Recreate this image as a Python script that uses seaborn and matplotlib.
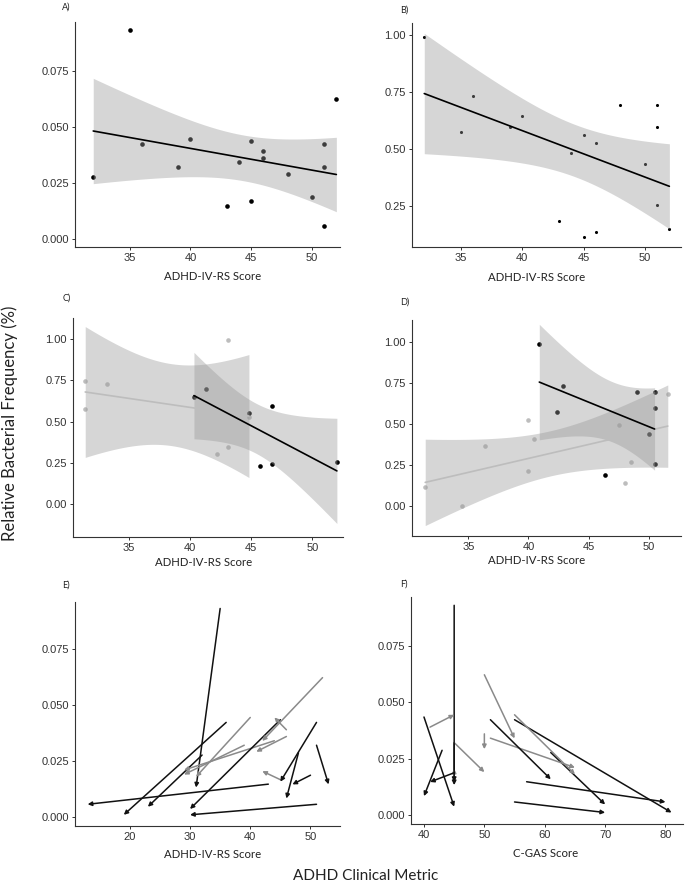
import numpy as np
import pandas as pd
import matplotlib
matplotlib.use("Agg")
import matplotlib.pyplot as plt
import seaborn as sns

try:
    from scipy.stats import t as t_dist
except ImportError:
    t_dist = None

# ---- values ----
# baseline ADHD-IV-RS score and relative frequency (panel A, arrow tails in E/F)
adhd_t1 = [32, 35, 36, 39, 40, 43, 44, 45, 45, 46, 46, 48, 50, 51, 51, 51, 52]
freq_t1 = [0.0277, 0.0932, 0.0423, 0.0321, 0.0445, 0.0147, 0.0341, 0.0435, 0.0167,
           0.0390, 0.0360, 0.0287, 0.0187, 0.0423, 0.0321, 0.0057, 0.0623]
# follow-up values (arrow heads in E/F)
adhd_t2 = [23, 31, 19, 29, 31, 13, 29, 30, 42, 44, 41, 46, 47, 45, 53, 30, 42]
freq_t2 = [0.0046, 0.0132, 0.0010, 0.0190, 0.0180, 0.0057, 0.0210, 0.0036, 0.0205,
           0.0445, 0.0292, 0.0083, 0.0146, 0.0158, 0.0146, 0.0010, 0.0340]
cgas_t1 = [61, 45, 55, 45, 55, 57, 51, 40, 45, 41, 50, 43, 45, 51, 45, 55, 50]
cgas_t2 = [70, 45, 81, 50, 65, 80, 65, 45, 45, 45, 50, 40, 41, 61, 45, 70, 55]
arrow_group = ["dark", "dark", "dark", "light", "light", "dark", "light", "dark", "light",
               "light", "light", "dark", "dark", "dark", "dark", "dark", "light"]

# panel B
freq_b = [0.990, 0.576, 0.731, 0.595, 0.643, 0.187, 0.482, 0.561, 0.117,
          0.528, 0.137, 0.692, 0.436, 0.692, 0.596, 0.257, 0.149]

# panel C (two groups)
c_light_x = [31.4, 31.4, 33.2, 43.1, 42.2, 43.1, 44.8]
c_light_y = [0.744, 0.574, 0.730, 0.996, 0.304, 0.345, 0.525]
c_dark_x = [40.3, 41.3, 44.8, 46.7, 45.7, 46.7, 52.0]
c_dark_y = [0.651, 0.696, 0.552, 0.592, 0.229, 0.245, 0.256]

# panel D (two groups)
d_light_x = [31.4, 34.5, 36.4, 40.0, 40.0, 40.5, 47.5, 48.5, 48.0, 51.6]
d_light_y = [0.114, 0.000, 0.363, 0.525, 0.210, 0.407, 0.489, 0.265, 0.138, 0.682]
d_dark_x = [40.9, 42.4, 42.9, 46.4, 49.0, 50.0, 50.5, 50.5, 50.5]
d_dark_y = [0.986, 0.574, 0.729, 0.187, 0.690, 0.434, 0.690, 0.595, 0.257]

T975 = {5: 2.571, 7: 2.365, 8: 2.306, 15: 2.131}

W, H = 685, 884
DARK = "#000000"
LIGHT = "#BDBDBD"
ARROW = {"dark": "#111111", "light": "#8A8A8A"}

sns.set_theme(style="ticks")
plt.rcParams["font.family"] = ["Liberation Sans", "DejaVu Sans"]
plt.rcParams["axes.linewidth"] = 0.8
plt.rcParams["axes.edgecolor"] = "#333333"
plt.rcParams["xtick.color"] = "#333333"
plt.rcParams["ytick.color"] = "#333333"
plt.rcParams["xtick.major.size"] = 2.5
plt.rcParams["ytick.major.size"] = 2.5
plt.rcParams["xtick.major.width"] = 0.7
plt.rcParams["ytick.major.width"] = 0.7
plt.rcParams["xtick.labelsize"] = 8
plt.rcParams["ytick.labelsize"] = 8
plt.rcParams["xtick.major.pad"] = 2
plt.rcParams["ytick.major.pad"] = 2

TITLE_FONT = ["Lato", "DejaVu Sans"]


def rect(left, top, right, bottom):
    return [left / W, 1 - bottom / H, (right - left) / W, (bottom - top) / H]


def lm_band(x, y, n=100):
    x = np.asarray(x, float)
    y = np.asarray(y, float)
    slope, icpt = np.polyfit(x, y, 1)
    grid = np.linspace(x.min(), x.max(), n)
    fit = icpt + slope * grid
    dof = len(x) - 2
    s = np.sqrt(np.sum((y - (icpt + slope * x)) ** 2) / dof)
    se = s * np.sqrt(1 / len(x) + (grid - x.mean()) ** 2 / np.sum((x - x.mean()) ** 2))
    tq = t_dist.ppf(0.975, dof) if t_dist is not None else T975[dof]
    return grid, fit, fit - tq * se, fit + tq * se


def smooth(ax, x, y, color):
    grid, fit, lo, hi = lm_band(x, y)
    ax.fill_between(grid, lo, hi, color="#999999", alpha=0.4, lw=0, zorder=3)
    sns.lineplot(x=grid, y=fit, ax=ax, color=color, lw=1.2, estimator=None, zorder=4)


def points(ax, x, y, color, size):
    sns.scatterplot(x=x, y=y, ax=ax, color=color, s=size, linewidth=0,
                    zorder=2, clip_on=False)


def style(ax, xlim, ylim, xticks, yticks, fmt, xlabel, label_pos):
    ax.set_xlim(xlim)
    ax.set_ylim(ylim)
    ax.set_xticks(xticks)
    ax.set_yticks(yticks)
    ax.set_yticklabels([fmt.format(v) for v in yticks])
    ax.set_xlabel(xlabel, fontsize=8.2, family=TITLE_FONT, color="#222222")
    ax.xaxis.set_label_coords(*label_pos)
    ax.set_ylabel("")
    sns.despine(ax=ax)


def arrows(ax, x0, y0, x1, y1, groups):
    for a, b, c, d, g in zip(x0, y0, x1, y1, groups):
        ax.annotate("", xy=(c, d), xytext=(a, b),
                    arrowprops=dict(arrowstyle="-|>", color=ARROW[g], lw=1.1,
                                    mutation_scale=6, shrinkA=0, shrinkB=0))


fig = plt.figure(figsize=(W / 100, H / 100), dpi=100)

ax_a = fig.add_axes(rect(75, 22, 340, 247))
ax_b = fig.add_axes(rect(412, 23, 681, 247))
ax_c = fig.add_axes(rect(73, 318, 343, 537))
ax_d = fig.add_axes(rect(412, 320, 681, 536))
ax_e = fig.add_axes(rect(75, 602, 340, 826))
ax_f = fig.add_axes(rect(411, 597, 683, 824))

# A
points(ax_a, adhd_t1, freq_t1, DARK, 11)
smooth(ax_a, adhd_t1, freq_t1, DARK)
style(ax_a, (30.5, 52.3), (-0.0036, 0.0966), [35, 40, 45, 50],
      [0, 0.025, 0.05, 0.075], "{:.3f}", "ADHD-IV-RS Score", (0.52, -0.107))

# B
points(ax_b, adhd_t1, freq_b, DARK, 5)
smooth(ax_b, adhd_t1, freq_b, DARK)
style(ax_b, (31.0, 52.95), (0.072, 1.051), [35, 40, 45, 50],
      [0.25, 0.5, 0.75, 1.0], "{:.2f}", "ADHD-IV-RS Score", (0.465, -0.112))

# C
points(ax_c, c_light_x, c_light_y, LIGHT, 11)
points(ax_c, c_dark_x, c_dark_y, DARK, 11)
smooth(ax_c, c_light_x, c_light_y, LIGHT)
smooth(ax_c, c_dark_x, c_dark_y, DARK)
style(ax_c, (30.4, 52.5), (-0.2, 1.128), [35, 40, 45, 50],
      [0, 0.25, 0.5, 0.75, 1.0], "{:.2f}", "ADHD-IV-RS Score", (0.485, -0.092))

# D
points(ax_d, d_light_x, d_light_y, LIGHT, 11)
points(ax_d, d_dark_x, d_dark_y, DARK, 11)
smooth(ax_d, d_light_x, d_light_y, LIGHT)
smooth(ax_d, d_dark_x, d_dark_y, DARK)
style(ax_d, (30.3, 52.7), (-0.185, 1.132), [35, 40, 45, 50],
      [0, 0.25, 0.5, 0.75, 1.0], "{:.2f}", "ADHD-IV-RS Score", (0.465, -0.088))

# E
arrows(ax_e, adhd_t1, freq_t1, adhd_t2, freq_t2, arrow_group)
style(ax_e, (10.9, 54.9), (-0.004, 0.0961), [20, 30, 40, 50],
      [0, 0.025, 0.05, 0.075], "{:.3f}", "ADHD-IV-RS Score", (0.52, -0.103))

# F
arrows(ax_f, cgas_t1, freq_t1, cgas_t2, freq_t2, arrow_group)
style(ax_f, (37.85, 82.9), (-0.0041, 0.0969), [40, 50, 60, 70, 80],
      [0, 0.025, 0.05, 0.075], "{:.3f}", "C-GAS Score", (0.495, -0.106))

# panel tags
for tag, (px, py) in {"A)": (62, 7), "B)": (400, 10), "C)": (63, 298),
                      "D)": (400, 302), "E)": (62, 585), "F)": (400, 584)}.items():
    fig.text(px / W, 1 - py / H, tag, fontsize=6.5, family=TITLE_FONT,
             ha="left", va="center", color="#222222")

fig.text(10 / W, 1 - 423 / H, "Relative Bacterial Frequency (%)", rotation=90,
         fontsize=12, family=TITLE_FONT, ha="center", va="center", color="#222222")
fig.text(366 / W, 1 - 876 / H, "ADHD Clinical Metric", fontsize=11,
         family=TITLE_FONT, ha="center", va="center", color="#222222")

fig.savefig("out.png", dpi=100)
